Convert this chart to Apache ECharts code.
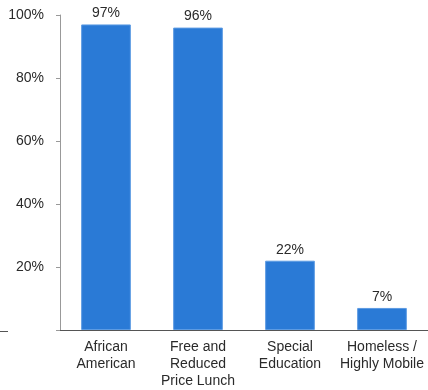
<!DOCTYPE html>
<html>
<head>
<meta charset="utf-8">
<script src="https://cdn.jsdelivr.net/npm/echarts@6/dist/echarts.min.js"></script>
<style>
  html, body { margin: 0; padding: 0; background: #fff; }
  #chart { width: 428px; height: 390px; }
</style>
</head>
<body>
<div id="chart"></div>
<script>
// categories and values
var categories = ['African\nAmerican', 'Free and\nReduced\nPrice Lunch', 'Special\nEducation', 'Homeless /\nHighly Mobile'];
var values = [97, 96, 22, 7];
var yTicks = [0, 20, 40, 60, 80, 100];

var myChart = echarts.init(document.getElementById('chart'));

var option = {
  animation: false,
  grid: {
    left: 60,
    right: 0,
    top: 15,
    bottom: 59,
    containLabel: false
  },
  xAxis: {
    type: 'category',
    data: categories,
    axisTick: { show: false },
    axisLine: { lineStyle: { color: '#555', width: 1 } },
    axisLabel: {
      interval: 0,
      color: '#2a2a2a',
      fontFamily: 'Liberation Sans, Arial, sans-serif',
      fontSize: 14,
      lineHeight: 17,
      margin: 9
    }
  },
  yAxis: {
    type: 'value',
    min: yTicks[0],
    max: yTicks[yTicks.length - 1],
    interval: 20,
    splitLine: { show: false },
    axisLine: { show: true, lineStyle: { color: '#999' } },
    axisTick: { show: true, length: 4, lineStyle: { color: '#999' } },
    axisLabel: {
      color: '#2a2a2a',
      fontFamily: 'Liberation Sans, Arial, sans-serif',
      fontSize: 14,
      margin: 16,
      formatter: function (v) { return v === 0 ? '' : v + '%'; }
    }
  },
  series: [{
    type: 'bar',
    data: values,
    barWidth: '54%',
    itemStyle: {
      color: '#2a7ad6',
      borderColor: '#5c9be3',
      borderWidth: 1
    },
    label: {
      show: true,
      position: 'top',
      distance: 4,
      color: '#2a2a2a',
      fontFamily: 'Liberation Sans, Arial, sans-serif',
      fontSize: 14,
      formatter: '{c}%'
    }
  }],
  graphic: [{
    type: 'line',
    shape: { x1: 0, y1: 331.5, x2: 8, y2: 331.5 },
    style: { stroke: '#555', lineWidth: 1 }
  }]
};

myChart.setOption(option);
</script>
</body>
</html>
